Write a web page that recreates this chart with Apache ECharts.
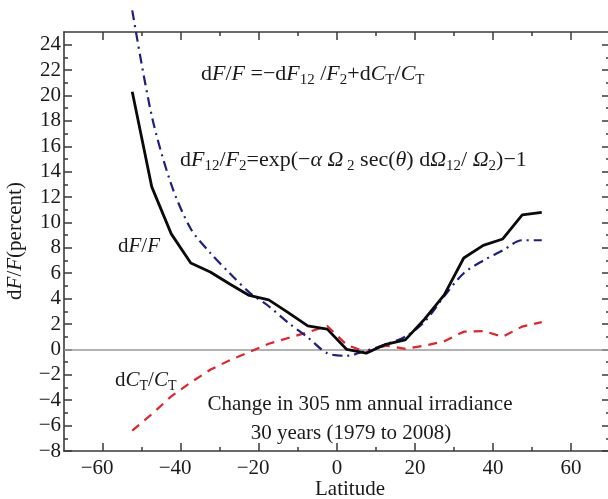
<!DOCTYPE html>
<html>
<head>
<meta charset="utf-8">
<script src="https://cdn.jsdelivr.net/npm/echarts@6/dist/echarts.min.js"></script>
<style>
  html, body { margin: 0; padding: 0; background: #fff; }
  #chart { width: 608px; height: 499px; }
</style>
</head>
<body>
<div id="chart"></div>
<script>
// Latitude bands (degrees) and the three curves, in percent
const latitude = [-52.5, -47.5, -42.5, -37.5, -32.5, -27.5, -22.5, -17.5, -12.5, -7.5, -2.5,
                  2.5, 7.5, 12.5, 17.5, 22.5, 27.5, 32.5, 37.5, 42.5, 47.5, 52.5];
const dFF    = [20.3, 12.8, 9.1, 6.8, 6.1, 5.15, 4.25, 3.9, 2.9, 1.85, 1.6,
                0.0, -0.3, 0.4, 0.75, 2.4, 4.3, 7.2, 8.2, 8.7, 10.6, 10.8];
const dF12F2 = [26.7, 18.4, 13.0, 9.5, 7.6, 6.0, 4.5, 3.4, 2.1, 0.95, -0.3,
                -0.5, -0.1, 0.4, 1.0, 2.2, 4.2, 6.0, 7.0, 7.8, 8.6, 8.6];
const dCTCT  = [-6.4, -5.1, -3.7, -2.6, -1.6, -0.85, -0.2, 0.45, 0.9, 1.35, 1.85,
                0.35, -0.2, 0.3, 0.05, 0.3, 0.65, 1.4, 1.45, 1.0, 1.8, 2.15];

// Axis tick positions
const xMajorTicks = [-60, -40, -20, 0, 20, 40, 60];
const xMinorTicks = [-50, -30, -10, 10, 30, 50];
const yMajorTicks = [-8, -6, -4, -2, 0, 2, 4, 6, 8, 10, 12, 14, 16, 18, 20, 22, 24];
const yMinorTicks = [-7, -5, -3, -1, 1, 3, 5, 7, 9, 11, 13, 15, 17, 19, 21, 23];

const FONT = "'Liberation Serif', 'Times New Roman', serif";
const AXIS_COLOR = '#3a3a3a';
const TEXT_COLOR = '#1a1a1a';

const pair = (xs, ys) => xs.map((x, i) => [x, ys[i]]);
const minus = v => (v < 0 ? '\u2212' + Math.abs(v) : String(v));
// x labels keep the digits centred on the tick; the minus sign hangs to the left
const minusHanging = v => (v < 0 ? '{t|\u2212' + Math.abs(v) + '}{h|\u2212}' : '{t|' + v + '}');

function xAxisDef(position, ticks, len, showLine, labels) {
  return {
    type: 'value', min: -70, max: 70, position: position,
    axisLine: { show: showLine, onZero: false, lineStyle: { color: AXIS_COLOR, width: 1.6 } },
    axisTick: { show: true, inside: true, length: len, customValues: ticks,
                lineStyle: { color: AXIS_COLOR, width: 1.5 } },
    axisLabel: labels ? {
                 show: true, customValues: ticks, formatter: minusHanging, margin: 7,
                 fontFamily: FONT, fontSize: 21, color: TEXT_COLOR,
                 rich: {
                   t: { fontFamily: FONT, fontSize: 21, color: TEXT_COLOR },
                   h: { fontFamily: FONT, fontSize: 21, color: 'rgba(0,0,0,0)' }
                 }
               }
             : { show: false },
    splitLine: { show: false }
  };
}
function yAxisDef(position, ticks, len, showLine, labels) {
  return {
    type: 'value', min: -8, max: 25, position: position,
    axisLine: { show: showLine, onZero: false, lineStyle: { color: AXIS_COLOR, width: 1.6 } },
    axisTick: { show: true, inside: true, length: len, customValues: ticks,
                lineStyle: { color: AXIS_COLOR, width: 1.5 } },
    axisLabel: labels ? { show: true, customValues: ticks, formatter: minus, margin: 3,
                          fontFamily: FONT, fontSize: 21, color: TEXT_COLOR }
                      : { show: false },
    splitLine: { show: false }
  };
}

// Rich-text pieces for the annotations
function richSet(size, subSize) {
  const base = { fontFamily: FONT, fontSize: size, color: TEXT_COLOR, fill: TEXT_COLOR, lineHeight: size + 5 };
  return {
    n: Object.assign({}, base),
    i: Object.assign({}, base, { fontStyle: 'italic' }),
    s: { fontFamily: FONT, fontSize: subSize, color: TEXT_COLOR, fill: TEXT_COLOR,
         lineHeight: subSize, verticalAlign: 'bottom' }
  };
}
const richFormula = richSet(22, 15);
const richLabel = richSet(21, 14);

function label(x, y, text, rich, size) {
  return {
    type: 'text', x: x, y: y, silent: true,
    style: {
      text: text, rich: rich, fontFamily: FONT, fontSize: size, fill: TEXT_COLOR,
      align: 'left', verticalAlign: 'middle', textAlign: 'left', textVerticalAlign: 'middle'
    }
  };
}
function plain(x, y, text) {
  return {
    type: 'text', x: x, y: y, silent: true,
    style: { text: text, fontFamily: FONT, fontSize: 21, fill: TEXT_COLOR,
             align: 'center', verticalAlign: 'middle', textAlign: 'center', textVerticalAlign: 'middle' }
  };
}

const chart = echarts.init(document.getElementById('chart'), null, { renderer: 'canvas' });
chart.setOption({
  animation: false,
  backgroundColor: '#ffffff',
  grid: { left: 64, top: 32, width: 546, height: 419, containLabel: false, outerBoundsMode: 'none' },
  xAxis: [
    xAxisDef('bottom', xMajorTicks, 8, true, true),
    xAxisDef('bottom', xMinorTicks, 4, false, false),
    xAxisDef('top', xMajorTicks, 8, true, false),
    xAxisDef('top', xMinorTicks, 4, false, false)
  ],
  yAxis: [
    yAxisDef('left', yMajorTicks, 8, true, true),
    yAxisDef('left', yMinorTicks, 4, false, false),
    yAxisDef('right', yMajorTicks, 8, true, false),
    yAxisDef('right', yMinorTicks, 4, false, false)
  ],
  series: [
    {
      name: 'dCT/CT', type: 'line', data: pair(latitude, dCTCT), showSymbol: false, z: 3,
      lineStyle: { color: '#e0242c', width: 2.2, type: [9, 7] },
      markLine: {
        silent: true, symbol: 'none', z: 1, label: { show: false },
        lineStyle: { color: '#9a9a9a', width: 1.6, type: 'solid' },
        data: [{ yAxis: 0 }]
      }
    },
    {
      name: 'dF12/F2', type: 'line', data: pair(latitude, dF12F2), showSymbol: false, z: 4,
      smooth: 0.3, clip: false,
      lineStyle: { color: '#1f1f80', width: 2.2, type: [10, 5, 2, 5] }
    },
    {
      name: 'dF/F', type: 'line', data: pair(latitude, dFF), showSymbol: false, z: 5,
      lineStyle: { color: '#0a0a0a', width: 2.8 }
    }
  ],
  graphic: [
    label(201, 74, '{n|d}{i|F}{n|/}{i|F}{n| =\u2212d}{i|F}{s|12}{n| /}{i|F}{s|2}{n|+d}{i|C}{s|T}{n|/}{i|C}{s|T}',
          richFormula, 22),
    label(180, 160, '{n|d}{i|F}{s|12}{n|/}{i|F}{s|2}{n|=exp(\u2212}{i|\u03b1 }{i|\u03a9}{s| 2}{n| sec(}{i|\u03b8}{n|) d}{i|\u03a9}{s|12}{n|/ }{i|\u03a9}{s|2}{n|)\u22121}',
          richFormula, 22),
    label(118, 246, '{n|d}{i|F}{n|/}{i|F}', richLabel, 21),
    label(115, 380, '{n|d}{i|C}{s|T}{n|/}{i|C}{s|T}', richLabel, 21),
    plain(360, 404, 'Change in 305 nm annual irradiance'),
    plain(351, 433, '30 years (1979 to 2008)'),
    plain(350, 489, 'Latitude'),
    {
      type: 'text', x: 15, y: 241, rotation: Math.PI / 2, silent: true,
      style: {
        text: '{n|d}{i|F}{n|/}{i|F}{n|(percent)}', rich: richLabel, fontFamily: FONT, fontSize: 21, fill: TEXT_COLOR,
        align: 'center', verticalAlign: 'middle', textAlign: 'center', textVerticalAlign: 'middle'
      }
    }
  ]
});
</script>
</body>
</html>
